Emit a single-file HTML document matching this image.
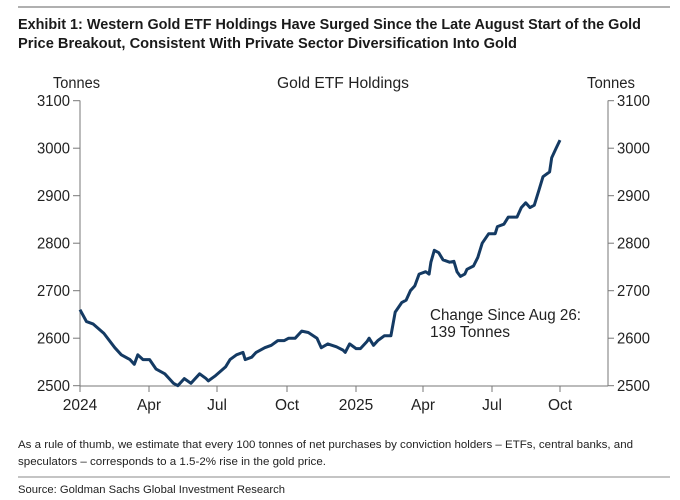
<!DOCTYPE html>
<html><head><meta charset="utf-8"><style>
html,body{margin:0;padding:0;background:#fff;}
svg{display:block;}
.t{font-family:"Liberation Sans",Arial,sans-serif;}
</style></head><body>
<svg id="s" width="680" height="500" viewBox="0 0 680 500" xmlns="http://www.w3.org/2000/svg">
<line x1="18" y1="7" x2="670" y2="7" stroke="#b0b0b0" stroke-width="2"/>
<text class="t" x="18" y="29" font-size="14.5" font-weight="bold" fill="#1a1a1a" textLength="623" lengthAdjust="spacingAndGlyphs">Exhibit 1: Western Gold ETF Holdings Have Surged Since the Late August Start of the Gold</text>
<text class="t" x="18" y="48" font-size="14.5" font-weight="bold" fill="#1a1a1a" textLength="499" lengthAdjust="spacingAndGlyphs">Price Breakout, Consistent With Private Sector Diversification Into Gold</text>

<g class="t" font-size="15.5" fill="#222">
<text x="53" y="88" textLength="47" lengthAdjust="spacingAndGlyphs">Tonnes</text>
<text x="343" y="88" text-anchor="middle" textLength="132" lengthAdjust="spacingAndGlyphs">Gold ETF Holdings</text>
<text x="587" y="88" textLength="48" lengthAdjust="spacingAndGlyphs">Tonnes</text>
<text x="430" y="320" textLength="151" lengthAdjust="spacingAndGlyphs">Change Since Aug 26:</text>
<text x="430" y="337" textLength="80" lengthAdjust="spacingAndGlyphs">139 Tonnes</text>
</g>
<g id="axes" stroke="#777" stroke-width="1" fill="none">
<line x1="80" y1="100.5" x2="80" y2="386"/>
<line x1="608" y1="100.5" x2="608" y2="386"/>
<line x1="80" y1="386" x2="608" y2="386"/>
</g>
<g id="labels" class="t" font-size="15.5" fill="#222"></g>
<polyline id="ln" fill="none" stroke="#143a63" stroke-width="3" stroke-linejoin="round"/>

<g class="t" font-size="11.3" fill="#222">
<text x="18" y="448" textLength="615" lengthAdjust="spacingAndGlyphs">As a rule of thumb, we estimate that every 100 tonnes of net purchases by conviction holders – ETFs, central banks, and</text>
<text x="18" y="465" textLength="308" lengthAdjust="spacingAndGlyphs">speculators – corresponds to a 1.5-2% rise in the gold price.</text>
<text x="18" y="493" textLength="267" lengthAdjust="spacingAndGlyphs">Source: Goldman Sachs Global Investment Research</text>
</g>
<line x1="18" y1="477" x2="670" y2="477" stroke="#b0b0b0" stroke-width="1.5"/>
</svg>
<script>
var NS="http://www.w3.org/2000/svg";
function Y(v){return 385.7-(v-2500)*285/600;}
var ax=document.getElementById("axes"),lb=document.getElementById("labels");
function el(p,tag,a,txt){var e=document.createElementNS(NS,tag);for(var k in a)e.setAttribute(k,a[k]);if(txt)e.textContent=txt;p.appendChild(e);}
for(var v=2500;v<=3100;v+=100){var y=Y(v);
el(ax,"line",{x1:73,y1:y,x2:80,y2:y});el(ax,"line",{x1:608,y1:y,x2:614,y2:y});
el(lb,"text",{x:70,y:y+5.5,"text-anchor":"end",textLength:33,lengthAdjust:"spacingAndGlyphs"},String(v));
el(lb,"text",{x:617,y:y+5.5,textLength:33,lengthAdjust:"spacingAndGlyphs"},String(v));}
var xs=[[80,"2024"],[149,"Apr"],[217,"Jul"],[287,"Oct"],[356,"2025"],[423,"Apr"],[492,"Jul"],[560,"Oct"]];
xs.forEach(function(a){el(ax,"line",{x1:a[0],y1:386,x2:a[0],y2:392});
el(lb,"text",{x:a[0],y:410,"text-anchor":"middle"},a[1]);});
var d=[185,2660,200,2635,215,2630,240,2610,265,2580,280,2565,300,2555,310,2545,318,2565,330,2555,345,2555,360,2535,380,2525,400,2505,410,2500,425,2515,440,2505,460,2525,475,2515,480,2510,495,2520,520,2540,530,2555,545,2565,560,2570,565,2555,580,2560,590,2570,610,2580,625,2585,640,2595,655,2595,665,2600,680,2600,695,2615,710,2612,730,2600,740,2580,755,2588,775,2582,790,2575,795,2570,805,2588,820,2578,830,2578,845,2593,850,2600,860,2585,870,2595,885,2605,900,2605,910,2655,925,2675,935,2680,945,2700,955,2710,965,2735,980,2740,988,2735,992,2760,1000,2785,1010,2780,1020,2765,1035,2760,1045,2762,1052,2740,1060,2730,1070,2735,1075,2745,1090,2752,1100,2770,1110,2800,1125,2820,1140,2820,1145,2835,1160,2840,1170,2855,1190,2855,1200,2875,1210,2885,1220,2875,1230,2880,1240,2910,1250,2940,1265,2950,1270,2980,1280,3000,1289,3017];
var pts=[];for(var i=0;i<d.length;i+=2){pts.push((80+(d[i]-185)/2.3).toFixed(1)+","+Y(d[i+1]).toFixed(1));}
document.getElementById("ln").setAttribute("points",pts.join(" "));
</script>
</body></html>
